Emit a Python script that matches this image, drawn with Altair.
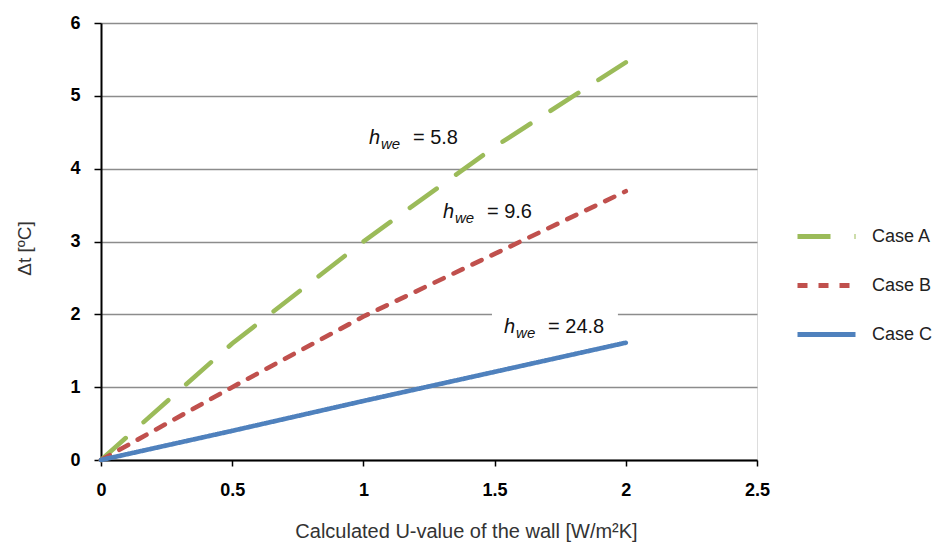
import altair as alt
import pandas as pd

# ---- data ----
u_values = [0.0, 0.5, 1.0, 1.5, 2.0]
case_a = [0.0, 1.6, 3.0, 4.3, 5.46]
case_b = [0.0, 1.0, 1.97, 2.83, 3.69]
case_c = [0.0, 0.4, 0.81, 1.21, 1.61]
case_names = ["Case A", "Case B", "Case C"]
case_colors = ["#9BBB59", "#C0504D", "#4F81BD"]
case_dashes = [[33, 24], [10, 11], [1, 0]]

x_ticks = [0, 0.5, 1, 1.5, 2, 2.5]
y_ticks = [0, 1, 2, 3, 4, 5, 6]

# annotation anchors (left edge / baseline of the italic "h")
ann_x = [1.021, 1.303, 1.536]
ann_y = [4.34, 3.32, 1.745]
ann_value = ["= 5.8", "= 9.6", "= 24.8"]
ann_sub = ["we", "we", "we"]
# white box behind the third annotation
box_x = [1.49]
box_x2 = [1.97]
box_y = [1.66]
box_y2 = [2.07]

rows = []
for name, vals in zip(case_names, [case_a, case_b, case_c]):
    for u, v in zip(u_values, vals):
        rows.append({"u": u, "dt": v, "case": name})
df = pd.DataFrame(rows)

ann = pd.DataFrame({"x": ann_x, "y": ann_y, "val": ann_value, "sub": ann_sub, "h": ["h"] * 3})
box = pd.DataFrame({"x": box_x, "x2": box_x2, "y": box_y, "y2": box_y2})

SANS = "Liberation Sans, Arial"

legend = alt.Legend(
    title=None, orient="none", legendX=694, legendY=182,
    symbolType="stroke", symbolSize=3364, symbolStrokeWidth=5,
    labelFont=SANS, labelFontSize=18, labelColor="#222222",
    labelOffset=14, rowPadding=7,
)

xscale = alt.Scale(domain=[0, 2.5], nice=False, zero=False)
yscale = alt.Scale(domain=[0, 6], nice=False)

x_axis = alt.Axis(
    values=x_ticks, format="~g", grid=False,
    domainColor="black", domainWidth=2, tickColor="black", tickWidth=1.5, tickSize=6,
    labelFont=SANS, labelFontWeight="bold", labelFontSize=18, labelColor="black",
    labelPadding=15, labelFlush=False,
    title="Calculated U-value of the wall [W/m²K]", titleFont=SANS, titleFontWeight="normal",
    titleFontSize=20, titleColor="#333333", titleX=365, titleY=71, titleBaseline="middle",
    titleAnchor="middle",
)
y_axis = alt.Axis(
    values=y_ticks, format="~g", grid=True, gridColor="#8c8c8c", gridWidth=1.5,
    domainColor="black", domainWidth=2, tickColor="black", tickWidth=1.5, tickSize=7,
    labelFont=SANS, labelFontWeight="bold", labelFontSize=18, labelColor="black",
    labelPadding=14,
    title="Δt [ºC]", titleFont=SANS, titleFontWeight="normal", titleFontSize=19,
    titleColor="#333333", titleX=-77, titleY=225, titleBaseline="middle", titleAngle=-90,
    titleAnchor="middle",
)

rect = alt.Chart(box).mark_rect(fill="white").encode(
    x=alt.X("x:Q", scale=xscale, axis=x_axis), x2="x2", y=alt.Y("y:Q", scale=yscale, axis=y_axis), y2="y2"
)

lines = alt.Chart(df).mark_line(strokeWidth=4.6, strokeCap="round").encode(
    x=alt.X("u:Q", scale=xscale, axis=x_axis),
    y=alt.Y("dt:Q", scale=yscale, axis=y_axis),
    color=alt.Color("case:N", scale=alt.Scale(domain=case_names, range=case_colors), legend=legend),
    strokeDash=alt.StrokeDash("case:N", scale=alt.Scale(domain=case_names, range=case_dashes), legend=legend),
)

t_h = alt.Chart(ann).mark_text(
    font=SANS, fontStyle="italic", fontSize=20, align="left", baseline="alphabetic", color="#111111"
).encode(x="x:Q", y="y:Q", text="h:N")
t_sub = alt.Chart(ann).mark_text(
    font=SANS, fontStyle="italic", fontSize=15, align="left", baseline="alphabetic", color="#111111",
    dx=12, dy=5,
).encode(x="x:Q", y="y:Q", text="sub:N")
t_val = alt.Chart(ann).mark_text(
    font=SANS, fontSize=20, align="left", baseline="alphabetic", color="#111111", dx=44,
).encode(x="x:Q", y="y:Q", text="val:N")

chart = alt.layer(rect, lines, t_h, t_sub, t_val).properties(
    width=656, height=437,
    autosize=alt.AutoSizeParams(type="none"),
    padding={"left": 93, "top": 15, "right": 175, "bottom": 84},
).configure_view(stroke=None).configure(background="white")

chart.save("out.html", embed_options={"renderer": "svg", "actions": False})
